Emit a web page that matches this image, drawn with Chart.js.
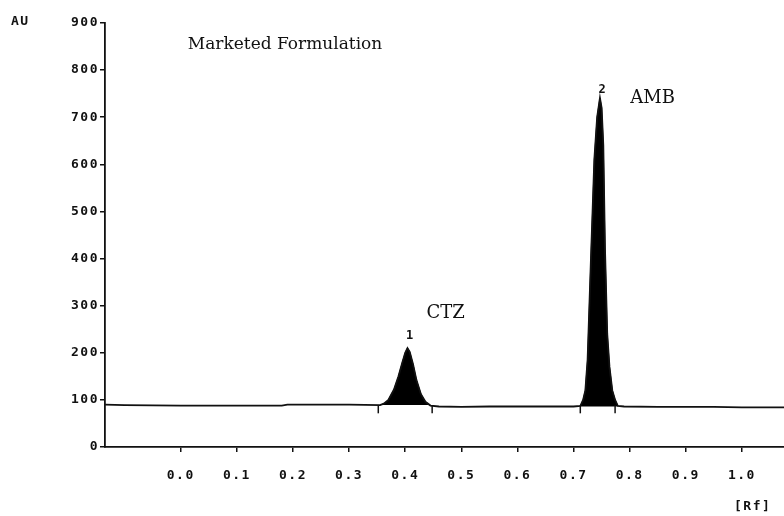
<!DOCTYPE html>
<html><head><meta charset="utf-8">
<script src="https://cdn.jsdelivr.net/npm/chart.js@4/dist/chart.umd.min.js"></script>
<style>html,body{margin:0;padding:0;background:#fff}canvas{display:block}</style>
</head><body>
<canvas id="c" width="784" height="516"></canvas>
<script>
// ---- data ----
const traceRf = [-0.135, -0.10, 0.0, 0.10, 0.18, 0.19, 0.30, 0.355,
  0.362, 0.370, 0.380, 0.388, 0.395, 0.400, 0.404, 0.408, 0.414, 0.420, 0.428, 0.436, 0.445,
  0.46, 0.50, 0.55, 0.60, 0.70,
  0.712, 0.717, 0.721, 0.725, 0.731, 0.737, 0.742, 0.747, 0.750, 0.753, 0.756, 0.760, 0.764, 0.769, 0.774, 0.779,
  0.79, 0.85, 0.95, 1.0, 1.075];
const traceAU = [90, 89, 88, 88, 88, 90, 90, 89,
  92, 100, 122, 150, 180, 200, 210, 202, 175, 142, 112, 96, 88,
  86, 85, 86, 86, 86,
  87, 100, 120, 185, 400, 610, 700, 741, 720, 640, 420, 240, 170, 120, 100, 87,
  86, 85, 85, 84, 84];

const peakNames = ['CTZ', 'AMB'];
const peakNumbers = ['1', '2'];
const peakStartRf = [0.355, 0.712];
const peakEndRf = [0.445, 0.779];
const peakBaseAU = [89, 86];
const peakNameRf = [0.438, 0.801];
const peakNameAU = [284, 741];
const peakNumberRf = [0.408, 0.751];
const peakNumberAU = [236, 758];

const markerRf = [0.352, 0.448, 0.712, 0.774];
const markerAU = [80, 80, 80, 80];

const xTickValues = [0.0, 0.1, 0.2, 0.3, 0.4, 0.5, 0.6, 0.7, 0.8, 0.9, 1.0];
const yTickValues = [0, 100, 200, 300, 400, 500, 600, 700, 800, 900];

const titleText = 'Marketed Formulation';
const titleRf = 0.0125;
const titleAU = 855;
const yUnit = 'AU';
const xUnit = '[Rf]';

// ---- build datasets ----
const ink = '#111';
const monoFont = { family: '"DejaVu Sans Mono", monospace', size: 13, weight: 'bold' };

const traceData = traceRf.map((x, i) => ({ x: x, y: traceAU[i] }));
const datasets = [{
  label: 'trace',
  data: traceData,
  borderColor: ink,
  borderWidth: 1.8,
  pointRadius: 0,
  tension: 0,
  fill: false,
  order: 0
}];
peakNames.forEach((name, i) => {
  datasets.push({
    label: name,
    data: traceData.filter(p => p.x >= peakStartRf[i] && p.x <= peakEndRf[i]),
    borderColor: '#000',
    borderWidth: 1,
    backgroundColor: '#000',
    pointRadius: 0,
    tension: 0,
    fill: { value: peakBaseAU[i] },
    order: 1
  });
});
datasets.push({
  type: 'scatter',
  label: 'integration',
  data: markerRf.map((x, i) => ({ x: x, y: markerAU[i] })),
  pointStyle: 'line',
  rotation: 90,
  pointRadius: 4,
  borderColor: ink,
  borderWidth: 1.5,
  backgroundColor: ink,
  order: 0
});

const notesPlugin = {
  id: 'notes',
  beforeDraw(chart) {
    const ctx = chart.ctx;
    ctx.save();
    ctx.fillStyle = '#fff';
    ctx.fillRect(0, 0, chart.width, chart.height);
    ctx.restore();
    ctx.letterSpacing = '1.5px';
  },
  afterDraw(chart) {
    const ctx = chart.ctx;
    const xs = chart.scales.x, ys = chart.scales.y;
    ctx.save();
    ctx.fillStyle = ink;
    ctx.textBaseline = 'middle';
    ctx.letterSpacing = '0px';
    ctx.textAlign = 'left';
    ctx.font = '17px "DejaVu Serif"';
    ctx.fillText(titleText, xs.getPixelForValue(titleRf), ys.getPixelForValue(titleAU));
    ctx.font = '18px "DejaVu Serif"';
    peakNames.forEach((n, i) => {
      ctx.fillText(n, xs.getPixelForValue(peakNameRf[i]), ys.getPixelForValue(peakNameAU[i]));
    });
    ctx.font = 'bold 12px "DejaVu Sans Mono"';
    ctx.textAlign = 'center';
    peakNumbers.forEach((n, i) => {
      ctx.fillText(n, xs.getPixelForValue(peakNumberRf[i]), ys.getPixelForValue(peakNumberAU[i]));
    });
    ctx.font = 'bold 13px "DejaVu Sans Mono"';
    ctx.letterSpacing = '1.5px';
    ctx.textAlign = 'left';
    ctx.fillText(yUnit, 11, ys.getPixelForValue(900) - 1);
    ctx.fillText(xUnit, chart.width - 50, chart.height - 9);
    ctx.restore();
    ctx.letterSpacing = '0px';
  }
};

new Chart(document.getElementById('c'), {
  type: 'line',
  data: { datasets: datasets },
  plugins: [notesPlugin],
  options: {
    responsive: false,
    animation: false,
    layout: { autoPadding: false, padding: { top: 23, left: 0, right: 0, bottom: 0 } },
    plugins: { legend: { display: false }, tooltip: { enabled: false } },
    scales: {
      x: {
        type: 'linear',
        min: -0.135,
        max: 1.075,
        afterBuildTicks: s => { s.ticks = xTickValues.map(v => ({ value: v })); },
        afterFit: s => { s.height = 69; },
        ticks: {
          callback: v => Number(v).toFixed(1),
          font: monoFont, color: ink, padding: 16,
          maxRotation: 0, autoSkip: false
        },
        grid: { drawOnChartArea: false, drawTicks: true, tickLength: 5, color: ink, lineWidth: 1.5 },
        border: { display: true, color: ink, width: 1.8 }
      },
      y: {
        min: 0,
        max: 900,
        afterBuildTicks: s => { s.ticks = yTickValues.map(v => ({ value: v })); },
        afterFit: s => { s.width = 105; },
        ticks: { font: monoFont, color: ink, padding: 1 },
        grid: { drawOnChartArea: false, drawTicks: true, tickLength: 5, color: ink, lineWidth: 1.5 },
        border: { display: true, color: ink, width: 1.8 }
      }
    }
  }
});
</script>
</body></html>
